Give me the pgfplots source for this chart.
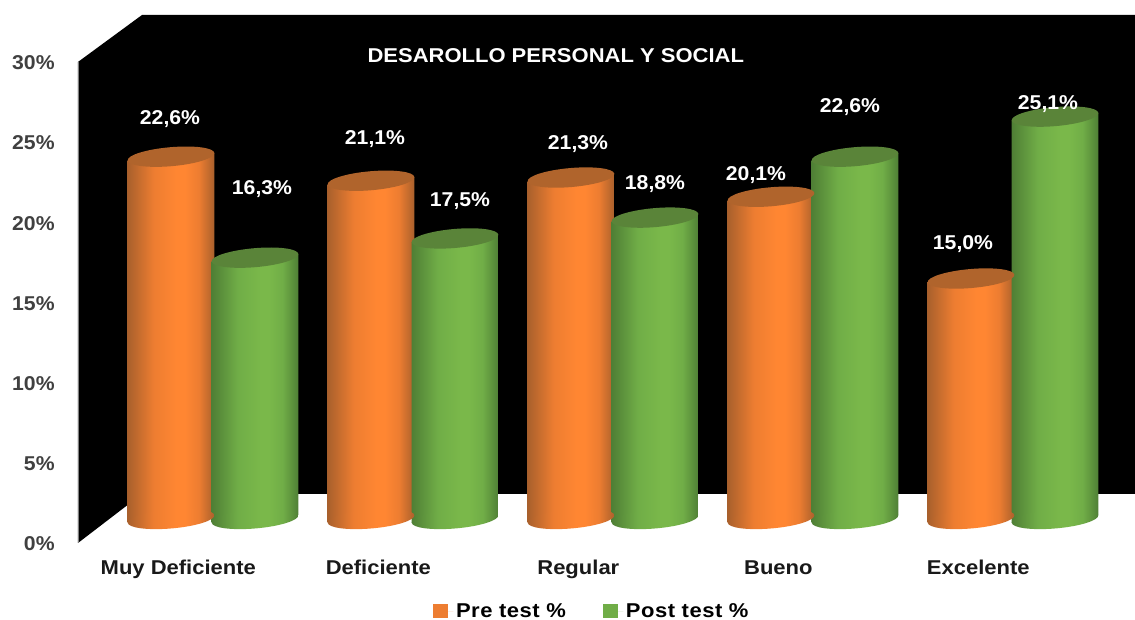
\documentclass[border=0pt]{standalone}
\usepackage{fontspec}
\setmainfont{Liberation Sans}
\newfontfamily\ancha[FakeStretch=1.1]{Liberation Sans}
\newfontfamily\media[FakeStretch=1.06]{Liberation Sans}
\usepackage{pgfplots}
\pgfplotsset{compat=1.18}

\definecolor{oran}{HTML}{ED7D31}
\definecolor{verd}{HTML}{70AD47}
\definecolor{orluz}{HTML}{FF8632}
\definecolor{orosc}{HTML}{A9602C}
\definecolor{ortapa}{HTML}{B0642C}
\definecolor{veluz}{HTML}{7AB84A}
\definecolor{veosc}{HTML}{4F7F35}
\definecolor{vetapa}{HTML}{5A8439}

% cylinder body, dark at both edges
\pgfdeclarehorizontalshading{cylo}{100bp}{
  color(0bp)=(orosc); color(25bp)=(orosc);
  color(40bp)=(oran); color(53bp)=(orluz); color(58bp)=(orluz); color(66bp)=(oran);
  color(75bp)=(orosc); color(100bp)=(orosc)}
\pgfdeclarehorizontalshading{cylg}{100bp}{
  color(0bp)=(veosc); color(25bp)=(veosc);
  color(40bp)=(verd); color(53bp)=(veluz); color(58bp)=(veluz); color(66bp)=(verd);
  color(75bp)=(veosc); color(100bp)=(veosc)}

% elliptic ends, tilted a little
\newcommand{\cylend}{\pgfpathellipse{\pgfpointorigin}{\pgfqpoint{32.5pt}{2.8pt}}{\pgfqpoint{-0.6pt}{7.1pt}}}
\pgfdeclareplotmark{baseo}{\cylend\pgfshadepath{cylo}{0}\pgfusepath{discard}}
\pgfdeclareplotmark{baseg}{\cylend\pgfshadepath{cylg}{0}\pgfusepath{discard}}
\pgfdeclareplotmark{topo}{\cylend\pgfsetfillcolor{ortapa}\pgfusepath{fill}}
\pgfdeclareplotmark{topg}{\cylend\pgfsetfillcolor{vetapa}\pgfusepath{fill}}

% one cylinder: {x}{value}{o or g}
\newcommand{\cilindro}[3]{
  \pgfmathsetmacro{\xa}{#1-0.2167}
  \pgfmathsetmacro{\xb}{#1+0.2167}
  \pgfmathsetmacro{\ya}{#2-0.233}
  \pgfmathsetmacro{\yb}{#2+0.233}
  \addplot[only marks, mark=base#3, forget plot] coordinates {(#1,0)};
  \addplot[draw=none, shade, shading=cyl#3, shading angle=0, forget plot] coordinates {
      (\xa,-0.233) (\xa,\ya) (\xb,\yb) (\xb,0.233)} -- cycle;
  \addplot[only marks, mark=top#3, forget plot] coordinates {(#1,#2)};
}

\pgfplotstableread{
x y label
-0.215 24.92 22,6\%
0.245 20.55 16,3\%
0.81 23.67 21,1\%
1.235 19.8 17,5\%
1.825 23.36 21,3\%
2.21 20.9 18,8\%
2.715 21.48 20,1\%
3.185 25.72 22,6\%
3.75 17.18 15,0\%
4.175 25.9 25,1\%
}\etiquetas

\begin{document}
\begin{tikzpicture}
\useasboundingbox (0,0) rectangle (851.25pt,465pt);
\begin{axis}[
    at={(58.5pt,57.75pt)}, anchor=south west,
    scale only axis, width=792.75pt, height=396pt,
    xmin=-0.675, xmax=4.61, ymin=-1.5, ymax=31.44,
    clip=false,
    axis line style={draw=none},
    major tick length=0pt,
    font=\fontsize{15}{18}\ancha\bfseries,
    xtick={0,1,2,3,4},
    xticklabels={Muy Deficiente,Deficiente,Regular,Bueno,Excelente},
    xticklabel style={xshift=-26pt, yshift=-9.5pt, text=black!90},
    ytick={-1.5,3.49,8.5,13.5,18.5,23.5,28.5},
    yticklabels={0\%,5\%,10\%,15\%,20\%,25\%,30\%},
    yticklabel style={xshift=-14pt, yshift=-0.6pt, text=black!75, font=\fontsize{15}{18}\media\bfseries},
    title={DESAROLLO PERSONAL Y SOCIAL},
    title style={at={(0.452,0.907)}, anchor=center, yshift=0pt, text=white},
    legend columns=2,
    legend style={at={(0.336,-0.1295)}, anchor=west, draw=none, fill=none, inner sep=0pt,
        nodes={inner ysep=0pt},
        font=\fontsize{15}{18}\ancha\bfseries\addfontfeature{LetterSpace=2.5},
        /tikz/every even column/.append style={column sep=26pt}},
    legend image code/.code={\fill[#1] (0pt,-5pt) rectangle (11pt,5.5pt); \path (0pt,0pt) -- (15pt,0pt);},
]
% back wall
\addplot[fill=black, draw=none, forget plot] coordinates {
    (-0.675,28.51) (-0.355,31.44) (4.61,31.44) (4.61,1.56) (-0.355,1.56) (-0.675,-1.5)} -- cycle;
\addplot[gray, thin, forget plot] coordinates {(-0.675,28.51) (-0.675,-1.5)};

% pre test
\cilindro{-0.21}{22.6}{o}
\cilindro{0.79}{21.1}{o}
\cilindro{1.79}{21.3}{o}
\cilindro{2.79}{20.1}{o}
\cilindro{3.79}{15.0}{o}
% post test
\cilindro{0.21}{16.3}{g}
\cilindro{1.21}{17.5}{g}
\cilindro{2.21}{18.8}{g}
\cilindro{3.21}{22.6}{g}
\cilindro{4.21}{25.1}{g}

% data labels
\addplot[draw=none, mark=none, forget plot, point meta=explicit symbolic,
    nodes near coords, every node near coord/.append style={anchor=center, inner sep=0pt, text=white, font=\fontsize{15}{18}\media\bfseries}]
    table[meta=label] {\etiquetas};

\addlegendimage{fill=oran, draw=none}
\addlegendentry{Pre test \%}
\addlegendimage{fill=verd, draw=none}
\addlegendentry{Post test \%}
\end{axis}
\end{tikzpicture}
\end{document}
